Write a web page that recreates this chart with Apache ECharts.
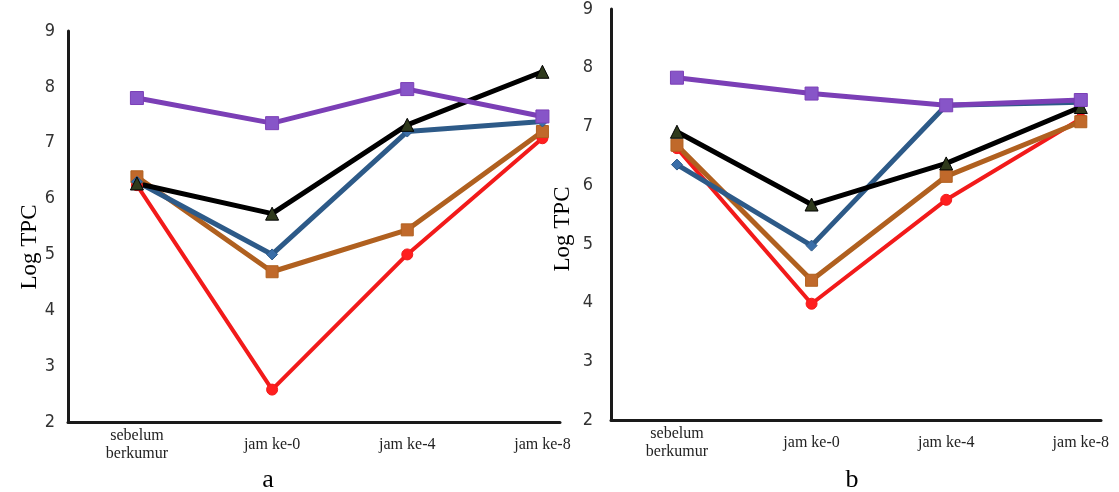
<!DOCTYPE html>
<html>
<head>
<meta charset="utf-8">
<script src="https://cdn.jsdelivr.net/npm/echarts@6/dist/echarts.min.js"></script>
<style>
  html, body { margin: 0; padding: 0; background: #fff; }
  #chart { width: 1119px; height: 492px; }
</style>
</head>
<body>
<div id="chart"></div>
<script>
// x categories (shared by both panels)
const categories = ['sebelum\nberkumur', 'jam ke-0', 'jam ke-4', 'jam ke-8'];
const yTicks = [2, 3, 4, 5, 6, 7, 8, 9];

// panel a
const purpleA = [7.80, 7.35, 7.96, 7.47];
const blackA = [6.27, 5.73, 7.32, 8.27];
const blueA = [6.30, 5.00, 7.20, 7.38];
const brownA = [6.39, 4.69, 5.44, 7.20];
const redA = [6.24, 2.58, 5.00, 7.08];

// panel b
const purpleB = [7.83, 7.56, 7.36, 7.45];
const blackB = [6.91, 5.67, 6.37, 7.33];
const blueB = [6.35, 4.97, 7.36, 7.41];
const brownB = [6.68, 4.38, 6.15, 7.08];
const redB = [6.63, 3.98, 5.75, 7.13];

const chart = echarts.init(document.getElementById('chart'));

const tickFont = "'Liberation Sans Narrow', 'DejaVu Sans Condensed', sans-serif";
const serifFont = "'Liberation Serif', 'DejaVu Serif', serif";

// 各条线的样式
const styles = {
  red: { line: '#f21a1a', fill: '#ff1f1f', symbol: 'circle', size: 11, width: 4 },
  brown: { line: '#b0601f', fill: '#c0692b', symbol: 'rect', size: 12, width: 5 },
  blue: { line: '#2d5a88', fill: '#3a6ea8', symbol: 'diamond', size: 11, width: 5 },
  black: { line: '#000000', fill: '#2f3a1c', symbol: 'triangle', size: 13, width: 5 },
  purple: { line: '#7b3fb6', fill: '#8755c8', symbol: 'rect', size: 13, width: 5 }
};

function makeSeries(name, values, key, idx) {
  const s = styles[key];
  return {
    name: name,
    type: 'line',
    xAxisIndex: idx,
    yAxisIndex: idx,
    data: values.map((v, i) => [i, v]),
    symbol: s.symbol,
    symbolSize: s.size,
    lineStyle: { color: s.line, width: s.width },
    itemStyle: { color: s.fill, borderColor: s.line, borderWidth: 1 },
    z: 2
  };
}

function makeX(idx, min, max) {
  return {
    type: 'value',
    gridIndex: idx,
    min: min,
    max: max,
    splitLine: { show: false },
    axisTick: { show: false },
    axisLine: { show: true, onZero: false, lineStyle: { color: '#1a1a1a', width: 3 } },
    axisLabel: {
      customValues: [0, 1, 2, 3],
      formatter: v => categories[Math.round(v)] || '',
      fontFamily: serifFont,
      fontSize: 16,
      color: '#222',
      lineHeight: 18,
      verticalAlign: 'middle',
      margin: 23
    }
  };
}

function makeY(idx, margin) {
  return {
    type: 'value',
    gridIndex: idx,
    min: yTicks[0],
    max: yTicks[yTicks.length - 1],
    interval: 1,
    splitLine: { show: false },
    axisTick: { show: false },
    axisLine: { show: true, onZero: false, lineStyle: { color: '#1a1a1a', width: 3 } },
    axisLabel: {
      fontFamily: tickFont,
      fontSize: 18,
      color: '#333',
      margin: margin
    }
  };
}

const option = {
  backgroundColor: '#fff',
  animation: false,
  grid: [
    { left: 68, top: 31, width: 492, bottom: 70 },
    { left: 611, top: 6, width: 490, bottom: 72 }
  ],
  xAxis: [makeX(0, -0.51, 3.13), makeX(1, -0.49, 3.15)],
  yAxis: [makeY(0, 13), makeY(1, 18)],
  graphic: [
    {
      type: 'text', x: 30, y: 247, rotation: Math.PI / 2,
      style: { text: 'Log TPC', font: '23px ' + serifFont, fill: '#000', align: 'center', verticalAlign: 'middle' }
    },
    {
      type: 'text', x: 563, y: 229, rotation: Math.PI / 2,
      style: { text: 'Log TPC', font: '23px ' + serifFont, fill: '#000', align: 'center', verticalAlign: 'middle' }
    },
    {
      type: 'text', x: 268, y: 480,
      style: { text: 'a', font: '26px ' + serifFont, fill: '#000', align: 'center', verticalAlign: 'middle' }
    },
    {
      type: 'text', x: 852, y: 480,
      style: { text: 'b', font: '26px ' + serifFont, fill: '#000', align: 'center', verticalAlign: 'middle' }
    }
  ],
  series: [
    makeSeries('red a', redA, 'red', 0),
    makeSeries('brown a', brownA, 'brown', 0),
    makeSeries('blue a', blueA, 'blue', 0),
    makeSeries('black a', blackA, 'black', 0),
    makeSeries('purple a', purpleA, 'purple', 0),
    makeSeries('red b', redB, 'red', 1),
    makeSeries('brown b', brownB, 'brown', 1),
    makeSeries('blue b', blueB, 'blue', 1),
    makeSeries('black b', blackB, 'black', 1),
    makeSeries('purple b', purpleB, 'purple', 1)
  ]
};

chart.setOption(option);
</script>
</body>
</html>
